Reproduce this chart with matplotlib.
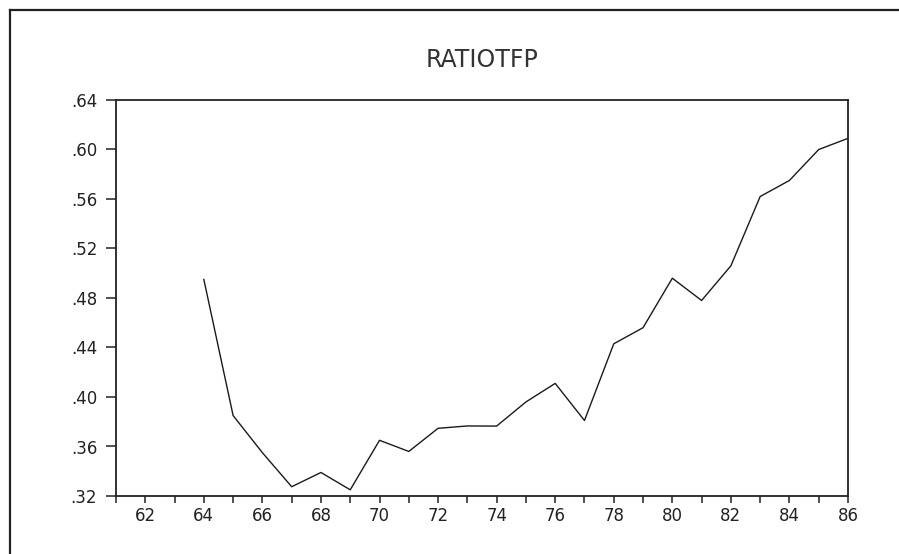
import matplotlib.pyplot as plt
import matplotlib as mpl
from matplotlib.lines import Line2D
from matplotlib.ticker import FixedLocator, FuncFormatter

years = [64, 65, 66, 67, 68, 69, 70, 71, 72, 73, 74, 75,
         76, 77, 78, 79, 80, 81, 82, 83, 84, 85, 86]
ratiotfp = [0.495, 0.385, 0.355, 0.3275, 0.339, 0.325, 0.365, 0.356,
            0.3747, 0.3766, 0.3765, 0.396, 0.411, 0.381, 0.443, 0.456,
            0.496, 0.478, 0.506, 0.562, 0.575, 0.600, 0.609]

y_ticks = [0.32, 0.36, 0.40, 0.44, 0.48, 0.52, 0.56, 0.60, 0.64]
x_major = list(range(62, 87, 2))
x_minor = list(range(61, 87, 2))

mpl.rcParams["font.family"] = ["DejaVu Sans"]
mpl.rcParams["font.size"] = 12

fig = plt.figure(figsize=(8.99, 5.54), dpi=100)
ax = fig.add_axes([116 / 899, 1 - 496 / 554, (848 - 116) / 899, (496 - 100) / 554])

ax.plot(years, ratiotfp, color="#1a1a1a", linewidth=1.0)

ax.set_xlim(61, 86)
ax.set_ylim(0.32, 0.64)
ax.yaxis.set_major_locator(FixedLocator(y_ticks))
ax.yaxis.set_major_formatter(FuncFormatter(lambda v, _: f"{v:.2f}".lstrip("0")))
ax.xaxis.set_major_locator(FixedLocator(x_major))
ax.xaxis.set_minor_locator(FixedLocator(x_minor))

for s in ax.spines.values():
    s.set_linewidth(1.3)
    s.set_color("#222222")

ax.tick_params(axis="y", direction="out", length=7.5, width=1.1, pad=6,
               colors="#222222", labelsize=12)
ax.tick_params(axis="x", which="both", direction="out", length=5, width=1.1,
               pad=3, colors="#222222", labelsize=12)

ax.set_title("RATIOTFP", fontsize=17, pad=24, color="#333333")

# outer frame around the graph
fig.add_artist(Line2D([10 / 899, 1.0], [1 - 10 / 554, 1 - 10 / 554],
                      transform=fig.transFigure, color="#222222", linewidth=1.6))
fig.add_artist(Line2D([10 / 899, 10 / 899], [0.0, 1 - 10 / 554],
                      transform=fig.transFigure, color="#222222", linewidth=1.6))

fig.savefig("out.png", dpi=100)
